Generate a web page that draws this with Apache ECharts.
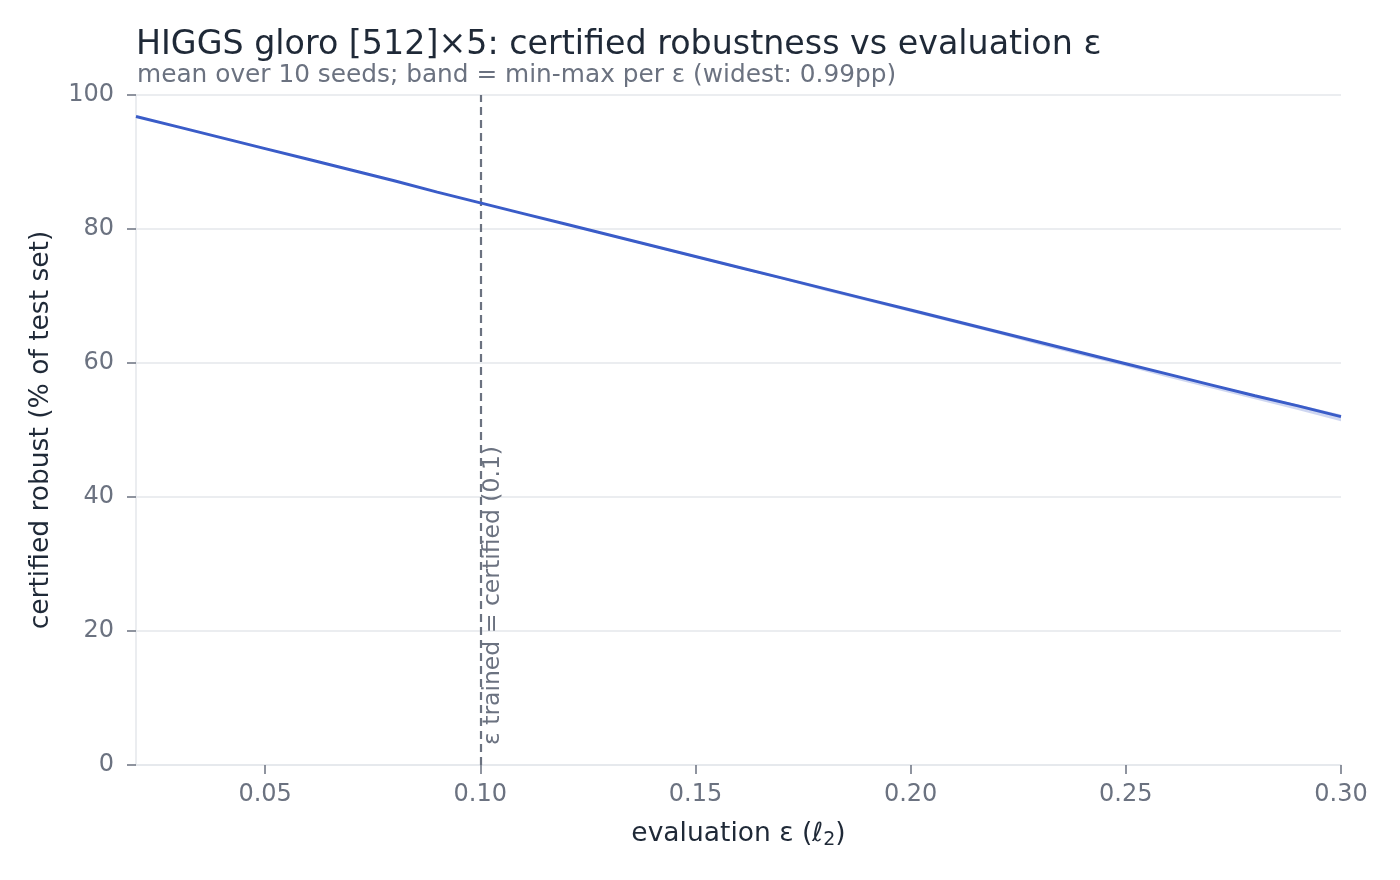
<!DOCTYPE html>
<html>
<head>
<meta charset="utf-8">
<script src="https://cdn.jsdelivr.net/npm/echarts@6/dist/echarts.min.js"></script>
<style>
  html, body { margin: 0; padding: 0; background: #fff; }
  #chart { width: 1400px; height: 880px; }
</style>
</head>
<body>
<div id="chart"></div>
<script>
// evaluation epsilon values
const epsValues = [0.02, 0.03, 0.04, 0.05, 0.06, 0.07, 0.08, 0.09, 0.10, 0.11, 0.12, 0.13, 0.14, 0.15,
  0.16, 0.17, 0.18, 0.19, 0.20, 0.21, 0.22, 0.23, 0.24, 0.25, 0.26, 0.27, 0.28, 0.29, 0.30]
// mean certified robust % over seeds
const meanRobust = [96.8, 95.2, 93.6, 92.0, 90.4, 88.8, 87.2, 85.5, 83.9, 82.3, 80.7, 79.1, 77.5, 75.9,
  74.3, 72.7, 71.1, 69.5, 67.9, 66.3, 64.7, 63.1, 61.5, 59.9, 58.3, 56.7, 55.1, 53.6, 52.0]
// min / max across seeds
const minRobust = [96.7, 95.1, 93.5, 91.9, 90.3, 88.7, 87.1, 85.4, 83.8, 82.2, 80.6, 79.0, 77.3, 75.7,
  74.1, 72.5, 70.8, 69.2, 67.6, 66.0, 64.4, 62.7, 61.1, 59.5, 57.8, 56.2, 54.6, 53.0, 51.3]
const maxRobust = [96.9, 95.3, 93.7, 92.1, 90.5, 88.9, 87.3, 85.6, 84.0, 82.4, 80.8, 79.2, 77.6, 76.0,
  74.4, 72.8, 71.2, 69.6, 68.0, 66.4, 64.8, 63.2, 61.6, 60.0, 58.4, 56.8, 55.3, 53.8, 52.3]
const xTicks = [0.05, 0.10, 0.15, 0.20, 0.25, 0.30]
const trainedEps = 0.1

const axisGrey = '#6b7280'
const gridGrey = '#e5e7eb'
const ink = '#1f2937'
const lineBlue = '#3a5cc8'

const chart = echarts.init(document.getElementById('chart'))

// min-max band as one polygon: upper edge left->right, lower edge back
const renderBand = (params, api) => {
  if (params.dataIndex !== 0) return
  const upper = epsValues.map((e, i) => api.coord([e, maxRobust[i]]))
  const lower = epsValues.map((e, i) => api.coord([e, minRobust[i]])).reverse()
  return {
    type: 'polygon',
    shape: { points: upper.concat(lower) },
    style: { fill: 'rgba(58, 92, 200, 0.25)' },
  }
}

chart.setOption({
  animation: false,
  textStyle: { fontFamily: 'DejaVu Sans' },
  title: [
    {
      text: 'HIGGS gloro [512]×5: certified robustness vs evaluation ε',
      left: 131, top: 24,
      textStyle: { fontSize: 33.3, fontWeight: 'normal', color: ink, fontFamily: 'DejaVu Sans' },
    },
    {
      text: 'mean over 10 seeds; band = min-max per ε (widest: 0.99pp)',
      left: 132, top: 58,
      textStyle: { fontSize: 24.8, fontWeight: 'normal', color: axisGrey, fontFamily: 'DejaVu Sans' },
    },
  ],
  grid: { left: 136, right: 59, top: 95, bottom: 115 },
  xAxis: {
    type: 'value',
    min: 0.02, max: 0.30,
    name: 'evaluation ε (ℓ{sub|2})',
    nameLocation: 'middle',
    nameGap: 54,
    nameTextStyle: {
      fontSize: 26.5, color: ink,
      rich: { sub: { fontSize: 19, color: ink, padding: [12, 0, 0, 0] } },
    },
    axisLine: { lineStyle: { color: gridGrey, width: 1.5 } },
    axisTick: { show: true, length: 9, lineStyle: { color: axisGrey, width: 1.5 }, customValues: xTicks },
    axisLabel: {
      fontSize: 24, color: axisGrey, margin: 18,
      customValues: xTicks,
      formatter: (v) => v.toFixed(2),
    },
    splitLine: { show: false },
  },
  yAxis: {
    type: 'value',
    min: 0, max: 100, interval: 20,
    name: 'certified robust (% of test set)',
    nameLocation: 'middle',
    nameGap: 81,
    nameTextStyle: { fontSize: 26.5, color: ink },
    axisLine: { show: true, lineStyle: { color: gridGrey, width: 1.5 } },
    axisTick: { show: true, length: 9, lineStyle: { color: axisGrey, width: 1.5 } },
    axisLabel: { fontSize: 24, color: axisGrey, margin: 22 },
    splitLine: { lineStyle: { color: gridGrey, width: 1.5 } },
  },
  series: [
    {
      name: 'band',
      type: 'custom',
      renderItem: renderBand,
      data: epsValues.map((e, i) => [e, minRobust[i], maxRobust[i]]),
      encode: { x: 0, y: [1, 2] },
      silent: true,
      z: 2,
    },
    {
      name: 'mean',
      type: 'line',
      symbol: 'none',
      lineStyle: { color: lineBlue, width: 3 },
      data: epsValues.map((e, i) => [e, meanRobust[i]]),
      z: 5,
      markLine: {
        silent: true,
        symbol: 'none',
        lineStyle: { color: axisGrey, type: [8, 5], width: 2.2 },
        label: {
          show: true,
          position: 'insideStartBottom',
          formatter: 'ε trained = certified (0.1)',
          fontSize: 23.5,
          color: axisGrey,
          distance: [20, 1],
        },
        data: [{ xAxis: trainedEps }],
      },
    },
  ],
})
</script>
</body>
</html>
